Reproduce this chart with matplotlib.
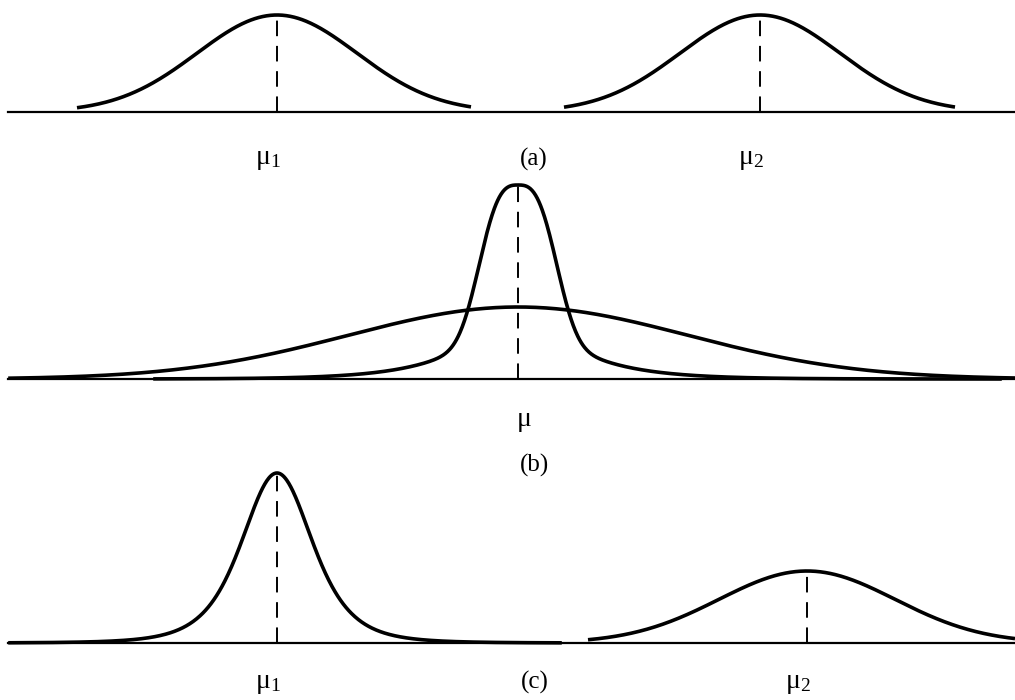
import numpy as np
import matplotlib.pyplot as plt

plt.rcParams['font.family'] = ['Liberation Serif', 'DejaVu Serif']
plt.rcParams['mathtext.fontset'] = 'custom'
plt.rcParams['mathtext.rm'] = 'Liberation Serif'
plt.rcParams['mathtext.it'] = 'Liberation Serif:italic'

# panel baselines (layout, pixel rows)
base = {'a': 112, 'b': 379, 'c': 643}

# (a) two equal-spread normals, different means
a_mu = [277, 760]
a_sd = [80, 80]
a_top = [97, 97]
a_lo = [77, 564]
a_hi = [471, 955]

# (b) same mean, one peaked and one spread out
b_mu = 518
b_wide_sd = 170
b_wide_top = 72
b_narrow_top = 194
b_core_w = 43
b_core_pow = 2.8
b_tail_amp = 0.45
b_tail_len = 55

# (c) different means, different spread
c_mu = [277, 807]
c_scale = [37, 88]
c_top = [170, 72]
c_lo = [10, 588]
c_hi = [560, 1015]

labels_a = [r'$\mathrm{μ_1}$', '(a)', r'$\mathrm{μ_2}$']
labels_b = [r'$\mathrm{μ}$', '(b)']
labels_c = [r'$\mathrm{μ_1}$', '(c)', r'$\mathrm{μ_2}$']


def gauss(x, m, s):
    return np.exp(-(x - m) ** 2 / (2 * s ** 2))


def student4(x, m, g):
    return (1 + (x - m) ** 2 / (4 * g ** 2)) ** -2.5


def peaked(x, m):
    core = np.exp(-(np.abs(x - m) / b_core_w) ** b_core_pow)
    tail = b_tail_amp * np.exp(-np.abs(x - m) / b_tail_len)
    return core + (1 - core) * tail


fig = plt.figure(figsize=(10.15, 7.0), dpi=100)
ax = fig.add_axes([0, 0, 1, 1])
ax.set_xlim(0, 1015)
ax.set_ylim(700, 0)
ax.axis('off')

lw_curve = 2.6
lw_base = 1.6
dash = dict(color='black', lw=1.4, linestyle=(0, (8, 5)))
fs_mu = 20
fs_tag = 18

# baselines
for k in base:
    ax.plot([8, 1015], [base[k], base[k]], color='black', lw=lw_base)

# ---- (a)
for m, s, t, lo, hi in zip(a_mu, a_sd, a_top, a_lo, a_hi):
    x = np.linspace(lo, hi, 400)
    ax.plot(x, base['a'] - t * gauss(x, m, s), color='black', lw=lw_curve,
            solid_capstyle='butt')
    ax.plot([m, m], [base['a'], base['a'] - t], **dash)
ax.text(268, 159, labels_a[0], ha='center', va='center', fontsize=fs_mu)
ax.text(534, 159, labels_a[1], ha='center', va='center', fontsize=fs_tag)
ax.text(751, 159, labels_a[2], ha='center', va='center', fontsize=fs_mu)

# ---- (b)
x = np.linspace(10, 1015, 800)
ax.plot(x, base['b'] - b_wide_top * gauss(x, b_mu, b_wide_sd),
        color='black', lw=lw_curve)
x = np.linspace(155, 1000, 1500)
ax.plot(x, base['b'] - b_narrow_top * peaked(x, b_mu), color='black',
        lw=lw_curve)
ax.plot([b_mu, b_mu], [base['b'], base['b'] - b_narrow_top], **dash)
ax.text(524, 421, labels_b[0], ha='center', va='center', fontsize=fs_mu)
ax.text(535, 465, labels_b[1], ha='center', va='center', fontsize=fs_tag)

# ---- (c)
x = np.linspace(c_lo[0], c_hi[0], 800)
ax.plot(x, base['c'] - c_top[0] * student4(x, c_mu[0], c_scale[0]),
        color='black', lw=lw_curve)
ax.plot([c_mu[0], c_mu[0]], [base['c'], base['c'] - c_top[0]], **dash)
x = np.linspace(c_lo[1], c_hi[1], 600)
ax.plot(x, base['c'] - c_top[1] * gauss(x, c_mu[1], c_scale[1]),
        color='black', lw=lw_curve, solid_capstyle='butt')
ax.plot([c_mu[1], c_mu[1]], [base['c'], base['c'] - c_top[1]], **dash)
ax.text(268, 683, labels_c[0], ha='center', va='center', fontsize=fs_mu)
ax.text(535, 682, labels_c[1], ha='center', va='center', fontsize=fs_tag)
ax.text(798, 684, labels_c[2], ha='center', va='center', fontsize=fs_mu)

fig.savefig('out.png', dpi=100, facecolor='white')
